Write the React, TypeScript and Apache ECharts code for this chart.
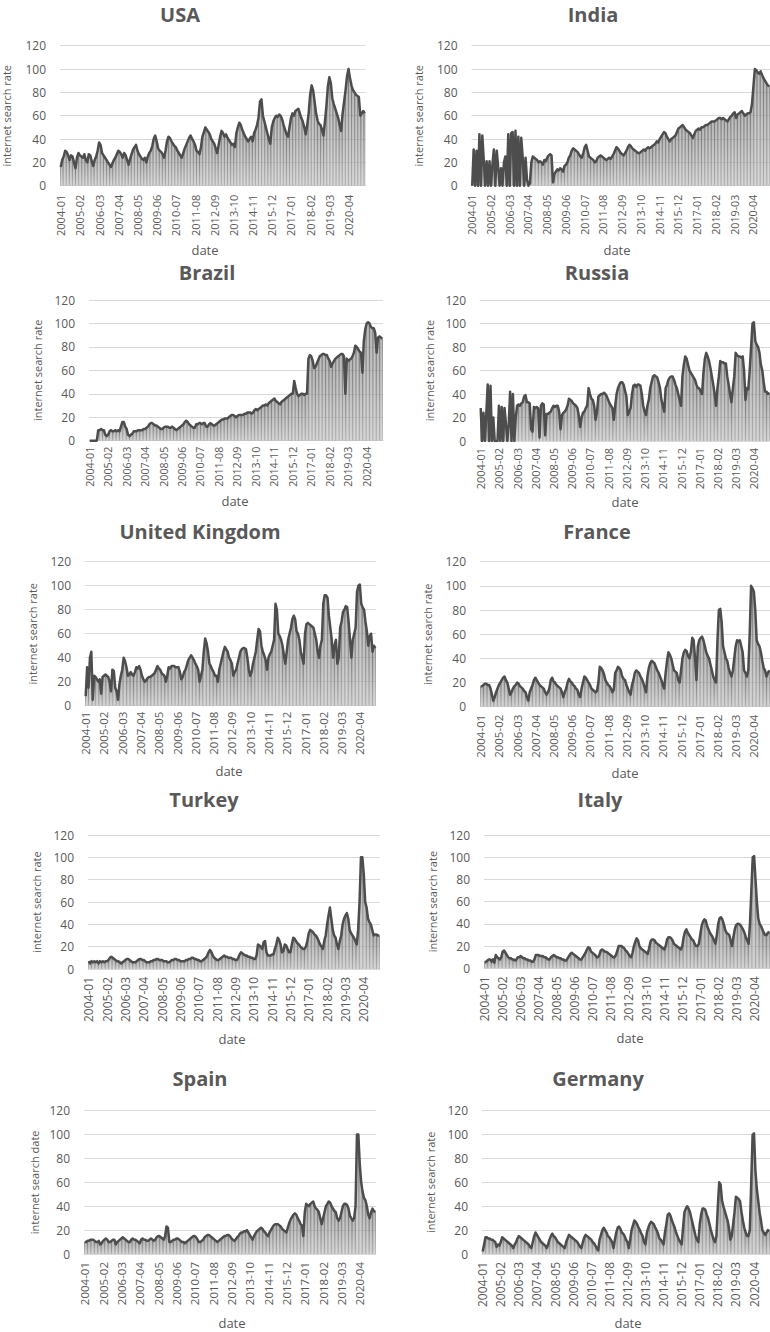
import React, { useEffect, useRef } from "react";
import * as echarts from "echarts";

// Monthly categories 2004-01 .. 2021-03
const months: string[] = [];
for (let y = 2004; y <= 2021; y++) {
  for (let m = 1; m <= 12; m++) {
    if (y === 2021 && m > 3) break;
    months.push(`${y}-${m < 10 ? "0" + m : m}`);
  }
}

const yTicks = [0, 20, 40, 60, 80, 100, 120];

const usa = [
  16, 22, 25, 30, 29, 26, 22, 26, 25, 20, 15, 24,
  28, 26, 25, 24, 27, 22, 20, 27, 26, 21, 17, 22,
  25, 30, 37, 35, 28, 26, 24, 22, 20, 18, 16, 19,
  22, 24, 27, 30, 29, 27, 24, 28, 26, 22, 18, 23,
  27, 31, 33, 35, 30, 27, 25, 23, 22, 24, 20, 25,
  28, 30, 34, 40, 43, 38, 32, 30, 29, 27, 24, 30,
  38, 42, 41, 38, 36, 34, 33, 30, 28, 26, 24, 28,
  32, 35, 38, 41, 43, 40, 38, 35, 30, 29, 27, 33,
  42, 46, 50, 48, 46, 44, 40, 38, 36, 32, 28, 35,
  42, 47, 45, 42, 44, 41, 39, 37, 35, 36, 33, 45,
  50, 54, 52, 48, 45, 42, 40, 38, 40, 42, 38, 45,
  48, 52, 58, 72, 74, 60, 55, 50, 45, 40, 36, 50,
  55, 58, 60, 59, 61, 60, 57, 52, 48, 44, 42, 50,
  58, 62, 60, 64, 65, 66, 62, 58, 55, 50, 44, 52,
  62, 78, 86, 82, 72, 62, 56, 53, 52, 48, 43, 55,
  68, 85, 93, 88, 75, 70, 66, 62, 58, 52, 47, 62,
  72, 82, 94, 100, 92, 86, 82, 80, 78, 77, 76, 60,
  62, 64, 62,
];

const india = [
  0, 31, 0, 30, 0, 44, 0, 43, 22, 0, 21, 0,
  21, 0, 18, 31, 0, 30, 16, 0, 15, 0, 20, 25,
  0, 44, 0, 45, 46, 0, 47, 0, 42, 0, 41, 24,
  0, 24, 5, 0, 2, 20, 25, 24, 23, 22, 20, 21,
  20, 18, 22, 21, 24, 26, 27, 26, 3, 10, 12, 14,
  13, 15, 14, 12, 17, 18, 20, 24, 26, 30, 32, 31,
  30, 29, 27, 25, 24, 28, 33, 35, 30, 25, 24, 23,
  22, 20, 21, 24, 25, 26, 25, 24, 23, 22, 23, 24,
  23, 25, 27, 30, 33, 32, 30, 28, 27, 26, 28, 30,
  33, 35, 34, 32, 31, 30, 29, 28, 28, 29, 30, 31,
  30, 32, 33, 32, 33, 34, 35, 36, 38, 37, 40, 42,
  44, 46, 45, 42, 40, 38, 40, 41, 42, 43, 46, 49,
  50, 51, 52, 50, 48, 47, 46, 45, 43, 41, 44, 47,
  48, 49, 48, 50, 50, 51, 52, 52, 53, 54, 55, 55,
  55, 56, 57, 58, 58, 57, 58, 57, 56, 55, 57, 59,
  60, 62, 63, 58, 61, 62, 63, 64, 62, 60, 61, 62,
  62, 63, 70, 85, 100, 99, 97, 96, 98, 95, 92, 90,
  88, 86, 85,
];

const brazil = [
  0, 0, 0, 0, 0, 0, 9, 9, 10, 9, 9, 5,
  4, 5, 8, 9, 8, 8, 9, 8, 9, 8, 12, 16,
  16, 12, 10, 5, 4, 5, 6, 8, 8, 8, 9, 9,
  9, 9, 10, 10, 11, 12, 14, 15, 15, 14, 13, 13,
  12, 11, 10, 10, 11, 12, 12, 12, 11, 11, 12, 11,
  10, 9, 10, 11, 12, 13, 14, 16, 17, 16, 14, 13,
  12, 11, 11, 14, 14, 15, 15, 14, 15, 15, 12, 12,
  14, 15, 14, 13, 13, 14, 15, 16, 17, 18, 18, 19,
  19, 19, 20, 21, 22, 22, 21, 20, 21, 22, 22, 22,
  22, 23, 23, 24, 24, 24, 23, 24, 26, 27, 26, 27,
  28, 29, 30, 30, 31, 30, 32, 33, 34, 35, 36, 34,
  33, 32, 31, 33, 34, 35, 36, 37, 38, 39, 40, 40,
  51, 45, 40, 38, 39, 40, 40, 39, 40, 40, 70, 73,
  72, 68, 62, 63, 66, 69, 72, 73, 74, 74, 73, 73,
  70, 68, 63, 66, 68, 70, 71, 72, 73, 74, 74, 72,
  40, 70, 68, 69, 70, 72, 75, 81, 80, 78, 76, 75,
  58, 85, 95, 100, 101, 100, 97, 96, 96, 92, 75, 88,
  89, 88, 87,
];

const russia = [
  28, 0, 24, 0, 23, 48, 0, 47, 0, 20, 0, 0,
  0, 30, 0, 29, 0, 28, 15, 0, 14, 42, 0, 40,
  0, 20, 30, 31, 30, 32, 33, 38, 39, 33, 33, 32,
  10, 8, 29, 28, 29, 28, 3, 30, 32, 31, 5, 23,
  23, 24, 25, 28, 30, 29, 30, 30, 25, 10, 22, 24,
  25, 27, 30, 36, 35, 34, 32, 31, 30, 28, 22, 12,
  20, 24, 25, 28, 30, 45, 40, 36, 35, 30, 18, 25,
  38, 39, 40, 40, 41, 40, 38, 35, 32, 30, 28, 18,
  30, 40, 45, 48, 50, 50, 48, 43, 38, 22, 25, 28,
  40, 47, 48, 46, 48, 48, 47, 40, 30, 25, 22, 30,
  35, 45, 50, 55, 56, 55, 54, 50, 45, 35, 30, 25,
  45, 48, 52, 54, 55, 55, 52, 48, 45, 40, 35, 30,
  55, 65, 72, 70, 65, 60, 58, 56, 54, 52, 48, 45,
  45, 42, 40, 58, 70, 75, 72, 68, 62, 55, 48, 40,
  30, 45, 55, 68, 67, 67, 66, 66, 55, 48, 40, 33,
  45, 55, 75, 73, 72, 72, 71, 72, 60, 35, 45, 44,
  60, 80, 100, 101, 85, 82, 80, 75, 65, 60, 50, 42,
  42, 40, 41,
];

const uk = [
  8, 32, 15, 40, 45, 5, 25, 24, 22, 20, 22, 10,
  24, 25, 26, 25, 24, 20, 12, 30, 29, 15, 12, 5,
  18, 25, 30, 40, 37, 32, 25, 26, 28, 26, 25, 28,
  32, 31, 33, 30, 25, 22, 20, 21, 23, 24, 24, 25,
  26, 27, 30, 33, 31, 30, 27, 26, 25, 20, 25, 32,
  31, 33, 33, 33, 32, 32, 32, 28, 22, 24, 28, 30,
  34, 38, 40, 42, 40, 38, 35, 33, 30, 20, 25, 30,
  45, 56, 52, 45, 35, 33, 30, 28, 25, 25, 20, 30,
  35, 40, 45, 49, 47, 45, 40, 38, 35, 25, 28, 30,
  35, 40, 45, 47, 48, 48, 47, 40, 30, 25, 28, 35,
  40, 45, 55, 64, 62, 50, 45, 42, 38, 30, 40, 43,
  45, 50, 55, 85, 80, 60, 58, 55, 50, 42, 35, 45,
  55, 60, 65, 72, 75, 72, 62, 60, 55, 45, 40, 35,
  60, 68, 69, 68, 67, 66, 65, 60, 55, 45, 40, 50,
  55, 85, 92, 92, 90, 75, 65, 55, 40, 50, 55, 35,
  40, 65, 70, 78, 80, 83, 82, 70, 55, 40, 55, 60,
  65, 95, 100, 101, 85, 82, 80, 70, 62, 50, 58, 60,
  45, 50, 48,
];

const france = [
  17, 17, 18, 19, 19, 18, 18, 15, 10, 5, 8, 12,
  15, 18, 20, 22, 24, 25, 22, 20, 15, 10, 12, 15,
  17, 18, 20, 19, 17, 16, 15, 13, 12, 8, 5, 12,
  15, 18, 22, 24, 22, 20, 18, 17, 16, 15, 12, 10,
  12, 15, 22, 24, 21, 20, 18, 17, 16, 15, 12, 8,
  12, 15, 20, 23, 21, 20, 18, 17, 15, 14, 10, 8,
  15, 20, 25, 24, 22, 20, 18, 15, 14, 13, 12, 13,
  20, 33, 32, 30, 27, 22, 20, 18, 17, 15, 12, 14,
  28, 30, 33, 32, 30, 25, 23, 22, 18, 15, 12, 10,
  18, 22, 28, 30, 29, 28, 25, 23, 20, 16, 12, 25,
  32, 36, 38, 37, 36, 33, 30, 28, 25, 22, 18, 15,
  28, 38, 45, 43, 40, 35, 30, 29, 28, 22, 20, 30,
  40, 45, 47, 46, 42, 40, 45, 57, 55, 40, 22, 50,
  55, 57, 58, 55, 50, 45, 42, 40, 35, 30, 25, 22,
  20, 55, 80, 81, 70, 50, 45, 40, 38, 32, 28, 25,
  30, 40, 50, 55, 54, 55, 50, 45, 30, 28, 25, 30,
  60, 100, 98, 95, 80, 55, 52, 50, 45, 38, 32, 30,
  25, 28, 30,
];

const turkey = [
  7, 5, 7, 6, 7, 6, 7, 5, 7, 6, 7, 6,
  7, 7, 8, 10, 11, 10, 9, 8, 7, 7, 6, 5,
  6, 7, 8, 9, 9, 8, 7, 6, 6, 6, 7, 8,
  9, 9, 8, 8, 7, 6, 6, 6, 7, 7, 8, 8,
  9, 9, 8, 8, 8, 7, 7, 7, 6, 6, 7, 8,
  8, 9, 9, 8, 8, 7, 7, 7, 7, 8, 8, 9,
  9, 10, 10, 9, 9, 8, 8, 7, 7, 8, 9, 10,
  12, 15, 17, 15, 12, 10, 9, 8, 8, 9, 10, 11,
  12, 11, 11, 10, 10, 10, 9, 9, 8, 8, 10, 13,
  15, 14, 13, 12, 12, 11, 11, 10, 10, 9, 9, 12,
  22, 21, 20, 18, 24, 25, 15, 12, 12, 12, 13, 13,
  18, 22, 28, 26, 22, 15, 16, 22, 21, 18, 15, 15,
  22, 28, 27, 25, 23, 22, 20, 19, 18, 18, 20, 25,
  32, 35, 34, 33, 31, 30, 28, 25, 22, 20, 18, 25,
  30, 40, 48, 55, 45, 35, 30, 28, 22, 18, 25, 30,
  40, 45, 48, 50, 45, 35, 32, 30, 28, 25, 22, 35,
  60, 100, 100, 85, 60, 55, 45, 42, 40, 35, 30, 31,
  31, 30, 30,
];

const italy = [
  5, 6, 7, 8, 8, 6, 8, 5, 12, 10, 9, 8,
  10, 15, 16, 14, 12, 10, 9, 9, 8, 8, 7, 8,
  10, 10, 11, 10, 9, 9, 8, 8, 7, 7, 6, 6,
  8, 12, 12, 12, 11, 11, 11, 10, 10, 9, 8, 8,
  10, 11, 12, 11, 10, 10, 9, 9, 8, 8, 7, 7,
  9, 11, 13, 14, 13, 12, 11, 10, 9, 8, 8, 10,
  12, 14, 17, 19, 18, 15, 14, 13, 12, 10, 10, 12,
  16, 17, 16, 15, 15, 14, 13, 12, 11, 10, 10, 12,
  16, 20, 20, 20, 19, 18, 16, 15, 13, 11, 10, 14,
  20, 24, 27, 25, 20, 18, 17, 16, 15, 14, 13, 18,
  24, 26, 26, 25, 23, 22, 21, 20, 19, 18, 17, 20,
  26, 28, 28, 27, 25, 22, 21, 20, 19, 18, 17, 20,
  28, 33, 35, 32, 30, 28, 26, 25, 22, 20, 20, 22,
  30, 38, 42, 44, 43, 38, 35, 32, 30, 28, 25, 22,
  30, 40, 45, 46, 44, 40, 35, 32, 31, 30, 25, 20,
  28, 35, 39, 40, 40, 39, 37, 35, 32, 28, 25, 22,
  40, 70, 100, 101, 80, 60, 45, 40, 38, 35, 32, 30,
  30, 32, 33,
];

const spain = [
  10, 10, 11, 11, 12, 12, 12, 11, 10, 10, 11, 8,
  9, 11, 12, 13, 12, 10, 10, 11, 12, 12, 8, 10,
  11, 12, 13, 14, 13, 12, 11, 10, 10, 12, 13, 12,
  12, 11, 10, 9, 12, 13, 12, 12, 11, 11, 12, 13,
  12, 11, 12, 14, 15, 15, 14, 13, 12, 15, 23, 22,
  10, 10, 11, 12, 12, 13, 13, 12, 11, 10, 10, 9,
  10, 11, 12, 13, 14, 15, 15, 14, 12, 10, 10, 11,
  12, 14, 15, 16, 16, 15, 14, 13, 12, 11, 10, 11,
  12, 13, 14, 15, 15, 16, 16, 15, 13, 12, 11, 12,
  14, 15, 17, 18, 18, 19, 19, 20, 18, 16, 14, 12,
  15, 17, 19, 20, 21, 22, 21, 19, 18, 16, 15, 18,
  20, 22, 24, 25, 25, 25, 24, 23, 21, 20, 19, 18,
  22, 26, 29, 31, 33, 34, 33, 30, 28, 25, 24, 15,
  35, 42, 41, 40, 42, 43, 44, 40, 38, 37, 35, 30,
  25, 30, 35, 40, 42, 44, 43, 40, 38, 36, 35, 30,
  28, 30, 35, 40, 42, 42, 41, 38, 32, 30, 28, 30,
  40, 100, 100, 75, 60, 52, 47, 45, 40, 33, 30, 35,
  38, 36, 35,
];

const germany = [
  2, 8, 14, 14, 13, 13, 12, 12, 11, 10, 6, 8,
  7, 10, 14, 13, 12, 11, 10, 9, 8, 7, 5, 8,
  10, 13, 15, 14, 13, 12, 11, 10, 9, 8, 6, 5,
  10, 15, 18, 16, 14, 12, 10, 9, 8, 7, 5, 8,
  12, 15, 17, 15, 14, 12, 10, 9, 8, 7, 6, 5,
  10, 13, 16, 15, 14, 13, 12, 11, 10, 8, 6, 5,
  10, 14, 16, 15, 14, 13, 12, 10, 9, 7, 5, 3,
  12, 16, 20, 22, 20, 18, 15, 14, 12, 10, 5, 12,
  18, 22, 23, 21, 18, 17, 15, 12, 10, 5, 12, 20,
  24, 28, 27, 25, 22, 20, 17, 15, 10, 8, 18, 22,
  25, 27, 26, 25, 22, 20, 17, 13, 12, 10, 8, 18,
  25, 33, 34, 32, 28, 25, 22, 18, 15, 12, 10, 8,
  22, 35, 38, 40, 38, 35, 30, 25, 20, 15, 12, 10,
  25, 33, 38, 38, 37, 33, 30, 25, 20, 16, 12, 10,
  15, 40, 60, 58, 45, 40, 36, 32, 28, 22, 12, 15,
  25, 35, 48, 47, 46, 44, 35, 28, 22, 18, 15, 15,
  20, 60, 100, 101, 70, 55, 45, 35, 28, 20, 18, 16,
  18, 20, 19,
];

const seriesData = [usa, india, brazil, russia, uk, france, turkey, italy, spain, germany];
const titles = ["USA", "India", "Brazil", "Russia", "United Kingdom", "France", "Turkey", "Italy", "Spain", "Germany"];
const yNames = [
  "internet search rate", "internet search rate", "internet search rate", "internet search rate",
  "internet search rate", "internet search rate", "internet search rate", "internet search rate",
  "internet search date", "internet search rate",
];

// layout of each panel (page pixels)
const layout = [
  { left: 59.5, top: 45.7, width: 306, height: 140, tx: 180, ty: 14, dx: 205, dy: 250, gap: 48, xfs: 11, xm: 9 },
  { left: 471.5, top: 45.7, width: 306, height: 140, tx: 593, ty: 14, dx: 617, dy: 250, gap: 48, xfs: 10.7, xm: 9 },
  { left: 89, top: 300, width: 294, height: 140.7, tx: 207, ty: 272, dx: 235, dy: 501, gap: 46, xfs: 10.7, xm: 6 },
  { left: 480, top: 300, width: 294, height: 141, tx: 597, ty: 272, dx: 625, dy: 502, gap: 45, xfs: 11, xm: 7 },
  { left: 85, top: 561.7, width: 291, height: 144, tx: 200, ty: 531, dx: 229, dy: 771, gap: 47, xfs: 11.5, xm: 6 },
  { left: 480, top: 561.7, width: 294, height: 145, tx: 597, ty: 531, dx: 625, dy: 773, gap: 47, xfs: 11.5, xm: 8 },
  { left: 88, top: 835, width: 292, height: 134, tx: 204, ty: 799, dx: 232, dy: 1039, gap: 46, xfs: 12, xm: 8 },
  { left: 484, top: 835, width: 295, height: 133.3, tx: 600, ty: 799, dx: 630, dy: 1038, gap: 46, xfs: 12, xm: 8 },
  { left: 84, top: 1110.7, width: 292, height: 143.3, tx: 200, ty: 1078, dx: 232, dy: 1323, gap: 44, xfs: 11.5, xm: 8 },
  { left: 482, top: 1110.7, width: 295, height: 143.3, tx: 598, ty: 1078, dx: 628, dy: 1323, gap: 46, xfs: 12, xm: 8 },
];

const FONT = "'Open Sans', 'Noto Sans', sans-serif";
const TEXT = "#595959";

export default function App() {
  const ref = useRef<HTMLDivElement>(null);
  useEffect(() => {
    if (!ref.current) return;
    const chart = echarts.init(ref.current, undefined, { renderer: "svg" });
    const grid: any[] = [];
    const xAxis: any[] = [];
    const yAxis: any[] = [];
    const series: any[] = [];
    const graphic: any[] = [];
    layout.forEach((L, i) => {
      grid.push({ left: L.left, top: L.top, width: L.width, height: L.height, containLabel: false });
      xAxis.push({
        type: "category",
        gridIndex: i,
        data: months,
        boundaryGap: true,
        axisTick: { show: false },
        axisLine: { show: true, lineStyle: { color: "#d9d9d9", width: 1 } },
        axisLabel: {
          interval: 12,
          rotate: 90,
          fontSize: L.xfs,
          color: TEXT,
          fontFamily: FONT,
          margin: L.xm,
        },
        splitLine: { show: false },
      });
      yAxis.push({
        type: "value",
        gridIndex: i,
        min: yTicks[0],
        max: yTicks[yTicks.length - 1],
        interval: 20,
        name: yNames[i],
        nameLocation: "middle",
        nameRotate: 90,
        nameGap: L.gap,
        nameTextStyle: { fontSize: 11, color: TEXT, fontFamily: FONT },
        axisLine: { show: false },
        axisTick: { show: false },
        axisLabel: { fontSize: 12, color: TEXT, fontFamily: FONT, margin: 14 },
        splitLine: { lineStyle: { color: "#d9d9d9", width: 1 } },
      });
      series.push({
        type: "bar",
        xAxisIndex: i,
        yAxisIndex: i,
        data: seriesData[i],
        barCategoryGap: "30%",
        itemStyle: {
          color: {
            type: "linear",
            x: 0, y: 0, x2: 0, y2: 1,
            colorStops: [
              { offset: 0, color: "#777777" },
              { offset: 1, color: "#b0b0b0" },
            ],
          },
        },
        silent: true,
        z: 2,
      });
      series.push({
        type: "line",
        xAxisIndex: i,
        yAxisIndex: i,
        data: seriesData[i],
        symbol: "none",
        lineStyle: { color: "#4d4d4d", width: 2.5, join: "round" },
        silent: true,
        z: 3,
      });
      graphic.push({
        type: "text",
        x: L.tx,
        y: L.ty,
        style: {
          text: titles[i],
          fontSize: 20,
          fontWeight: "bold",
          fontFamily: FONT,
          fill: TEXT,
          textAlign: "center",
          textVerticalAlign: "middle",
        },
      });
      graphic.push({
        type: "text",
        x: L.dx,
        y: L.dy,
        style: {
          text: "date",
          fontSize: 13,
          fontFamily: FONT,
          fill: TEXT,
          textAlign: "center",
          textVerticalAlign: "middle",
        },
      });
    });
    chart.setOption({
      animation: false,
      backgroundColor: "#ffffff",
      grid,
      xAxis,
      yAxis,
      series,
      graphic,
    });
    return () => chart.dispose();
  }, []);
  return (
    <div
      ref={ref}
      style={{ position: "absolute", left: 0, top: 0, width: 770, height: 1332, overflow: "hidden" }}
    />
  );
}
